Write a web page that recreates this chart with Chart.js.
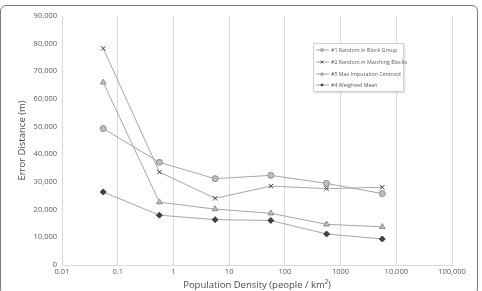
<!DOCTYPE html>
<html>
<head>
<meta charset="utf-8">
<script src="https://cdn.jsdelivr.net/npm/chart.js@4"></script>
<style>
  html, body { margin: 0; padding: 0; background: #fff; }
  #wrap { position: relative; width: 482px; height: 291px; overflow: hidden; }
  #frame { position: absolute; left: 0; top: 5px; width: 478px; height: 290px; border: 1.5px solid #7a7a7a; border-radius: 6px; box-sizing: border-box; }
  canvas { position: absolute; left: 0; top: 0; }
  #legend { position: absolute; left: 313px; top: 43px; width: 91px; height: 49px; background: #fff;
            border: 1px solid #d0d0d0; box-shadow: 1px 1px 2px rgba(0,0,0,0.15); box-sizing: border-box;
            font-family: "Open Sans", sans-serif; font-size: 5.3px; color: #595959; }
  .item { position: absolute; left: 2px; height: 8px; line-height: 8px; white-space: nowrap; }
  .item svg { position: absolute; left: 0; top: 0; }
  .item span { position: absolute; left: 15px; top: 0; }
</style>
</head>
<body>
<div id="wrap">
  <div id="frame"></div>
  <canvas id="chart" width="482" height="291"></canvas>
  <div id="legend"></div>
</div>
<script>
// --- DATA ---
const densities = [0.055, 0.56, 5.6, 56, 560, 5600];
const seriesNames = ['#1 Random in Block Group', '#2 Random in Matching Blocks', '#5 Max Imputation Centroid', '#4 Weighted Mean'];
const randomBlockGroup = [49300, 37100, 31200, 32400, 29500, 25800];
const randomMatching = [78300, 33600, 24100, 28500, 27600, 28100];
const maxImputation = [66000, 22700, 20200, 18700, 14700, 13800];
const weightedMean = [26400, 18000, 16400, 16100, 11200, 9400];
const xTickValues = [0.01, 0.1, 1, 10, 100, 1000, 10000, 100000];
const xTickLabels = ['0.01', '0.1', '1', '10', '100', '1000', '10,000', '100,000'];

const FONT = '"Open Sans", sans-serif';
const LINE = '#a6a6a6';

function toPoints(vals) {
    return densities.map((d, i) => ({ x: d, y: vals[i] }));
}

const styles = [
    { style: 'circle',   r: 3,   fill: '#bfbfbf', border: '#8c8c8c' },
    { style: 'crossRot', r: 3.2, fill: '#404040', border: '#404040' },
    { style: 'triangle', r: 3.3, fill: '#bfbfbf', border: '#8c8c8c' },
    { style: 'rectRot',  r: 3,   fill: '#404040', border: '#404040' }
];
const allValues = [randomBlockGroup, randomMatching, maxImputation, weightedMean];

const datasets = allValues.map((vals, i) => ({
    label: seriesNames[i],
    data: toPoints(vals),
    borderColor: LINE,
    borderWidth: 1,
    pointStyle: styles[i].style,
    pointRadius: styles[i].r,
    pointBackgroundColor: styles[i].fill,
    pointBorderColor: styles[i].border,
    pointBorderWidth: 1,
    tension: 0
}));

new Chart(document.getElementById('chart'), {
    type: 'line',
    data: { datasets },
    options: {
        responsive: false,
        animation: false,
        layout: { padding: { left: 0, right: 30, top: 16, bottom: 0 } },
        plugins: { legend: { display: false }, tooltip: { enabled: false } },
        scales: {
            x: {
                type: 'logarithmic',
                min: 0.01,
                max: 100000,
                afterBuildTicks: scale => { scale.ticks = xTickValues.map(v => ({ value: v })); },
                afterFit: scale => { scale.height = 26; },
                ticks: {
                    autoSkip: false,
                    maxRotation: 0,
                    padding: 2,
                    color: '#595959',
                    font: { family: FONT, size: 7.5 },
                    callback: (v) => { const i = xTickValues.indexOf(v); return i >= 0 ? xTickLabels[i] : ''; }
                },
                grid: { color: '#d9d9d9', drawTicks: false },
                border: { color: '#d9d9d9' },
                title: { display: true, text: 'Population Density (people / km²)', color: '#4a4a4a',
                         font: { family: FONT, size: 9.5 }, padding: { top: 2, bottom: 0 } }
            },
            y: {
                min: 0,
                max: 90000,
                afterFit: scale => { scale.width = 62; },
                ticks: {
                    stepSize: 10000,
                    padding: 5,
                    color: '#595959',
                    font: { family: FONT, size: 7.5 },
                    callback: v => v.toLocaleString('en-US')
                },
                grid: { display: false, drawTicks: false },
                border: { color: '#d9d9d9' },
                title: { display: true, text: 'Error Distance (m)', color: '#4a4a4a',
                         font: { family: FONT, size: 9.5 }, padding: { top: 17, bottom: 4 } }
            }
        }
    }
});

// html legend
const legend = document.getElementById('legend');
const markerSvg = [
    '<circle cx="6" cy="4" r="1.6" fill="#bfbfbf" stroke="#8c8c8c" stroke-width="0.6"/>',
    '<path d="M4.5 2.5 L7.5 5.5 M7.5 2.5 L4.5 5.5" stroke="#404040" stroke-width="0.8"/>',
    '<path d="M6 2.3 L7.7 5.2 L4.3 5.2 Z" fill="#bfbfbf" stroke="#8c8c8c" stroke-width="0.6"/>',
    '<path d="M6 2.2 L7.8 4 L6 5.8 L4.2 4 Z" fill="#404040"/>'
];
seriesNames.forEach((name, i) => {
    const div = document.createElement('div');
    div.className = 'item';
    div.style.top = (2 + i * 11.8) + 'px';
    div.innerHTML = '<svg width="14" height="8"><line x1="0" y1="4" x2="13" y2="4" stroke="#7f7f7f" stroke-width="0.7"/>' +
        markerSvg[i] + '</svg><span>' + name + '</span>';
    legend.appendChild(div);
});
</script>
</body>
</html>
